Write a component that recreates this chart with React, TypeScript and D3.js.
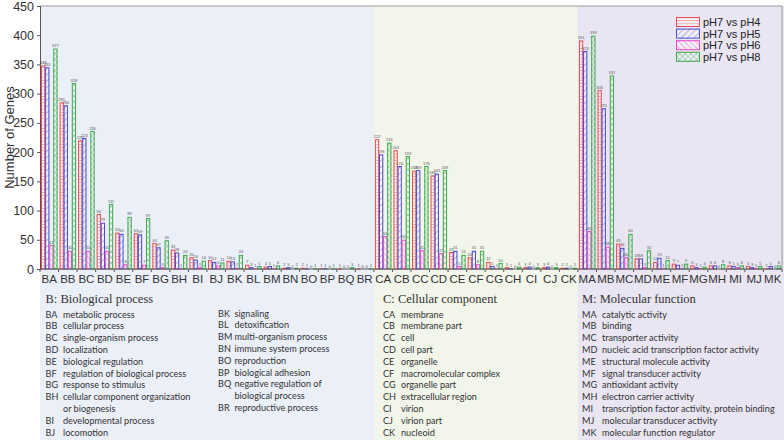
import * as React from 'react';
import * as d3 from 'd3';

// GO term codes, in plotting order
const bioCodes = ['BA', 'BB', 'BC', 'BD', 'BE', 'BF', 'BG', 'BH', 'BI', 'BJ', 'BK', 'BL', 'BM', 'BN', 'BO', 'BP', 'BQ', 'BR'];
const cellCodes = ['CA', 'CB', 'CC', 'CD', 'CE', 'CF', 'CG', 'CH', 'CI', 'CJ', 'CK'];
const molCodes = ['MA', 'MB', 'MC', 'MD', 'ME', 'MF', 'MG', 'MH', 'MI', 'MJ', 'MK'];

// number of genes per comparison (same order as the codes above)
const ph4 = [348, 285, 220, 94, 62, 61, 44, 33, 20, 15, 14, 7, 4, 2, 2, 1, 1, 1,
  222, 203, 168, 160, 29, 20, 12, 3, 3, 3, 2,
  391, 306, 43, 18, 12, 9, 6, 6, 6, 5, 1];
const ph5 = [345, 280, 224, 79, 60, 59, 37, 28, 16, 12, 13, 3, 5, 3, 1, 1, 0, 0,
  196, 176, 169, 163, 31, 31, 5, 1, 4, 4, 2,
  373, 275, 36, 18, 19, 7, 3, 6, 5, 3, 5];
const ph6 = [41, 31, 31, 31, 8, 7, 3, 1, 3, 6, 2, 1, 1, 0, 0, 0, 0, 0,
  56, 50, 32, 27, 5, 8, 1, 0, 0, 0, 0,
  65, 38, 20, 3, 1, 1, 1, 0, 3, 1, 0];
const ph8 = [377, 318, 236, 111, 89, 87, 49, 24, 14, 11, 24, 5, 6, 2, 1, 1, 3, 1,
  216, 193, 176, 169, 24, 31, 10, 4, 3, 3, 2,
  399, 331, 60, 32, 15, 9, 4, 8, 6, 5, 6];

const seriesNames = ['pH7 vs pH4', 'pH7 vs pH5', 'pH7 vs pH6', 'pH7 vs pH8'];
const yTicks = [0, 50, 100, 150, 200, 250, 300, 350, 400, 450];

const bioTerms1 = [
  ['BA', 'metabolic process'],
  ['BB', 'cellular process'],
  ['BC', 'single-organism process'],
  ['BD', 'localization'],
  ['BE', 'biological regulation'],
  ['BF', 'regulation of biological process'],
  ['BG', 'response to stimulus'],
  ['BH', 'cellular component organization', 'or biogenesis'],
  ['BI', 'developmental process'],
  ['BJ', 'locomotion'],
];
const bioTerms2 = [
  ['BK', 'signaling'],
  ['BL', 'detoxification'],
  ['BM', 'multi-organism process'],
  ['BN', 'immune system process'],
  ['BO', 'reproduction'],
  ['BP', 'biological adhesion'],
  ['BQ', 'negative regulation of', 'biological process'],
  ['BR', 'reproductive process'],
];
const cellTerms = [
  ['CA', 'membrane'],
  ['CB', 'membrane part'],
  ['CC', 'cell'],
  ['CD', 'cell part'],
  ['CE', 'organelle'],
  ['CF', 'macromolecular complex'],
  ['CG', 'organelle part'],
  ['CH', 'extracellular region'],
  ['CI', 'virion'],
  ['CJ', 'virion part'],
  ['CK', 'nucleoid'],
];
const molTerms = [
  ['MA', 'catalytic activity'],
  ['MB', 'binding'],
  ['MC', 'transporter activity'],
  ['MD', 'nucleic acid transcription factor activity'],
  ['ME', 'structural molecule activity'],
  ['MF', 'signal transducer activity'],
  ['MG', 'antioxidant activity'],
  ['MH', 'electron carrier activity'],
  ['MI', 'transcription factor activity, protein binding'],
  ['MJ', 'molecular transducer activity'],
  ['MK', 'molecular function regulator'],
];

const colors = ['#ee4a52', '#4a4ad2', '#ee48c6', '#3fa84f'];
const W = 784;
const H = 440;

export default function App() {
  const ref = React.useRef<SVGSVGElement | null>(null);

  React.useEffect(() => {
    document.body.style.margin = '0';
    if (!ref.current) return;
    const svg = d3.select(ref.current);
    svg.selectAll('*').remove();

    const left = 40, right = 782, top = 6, bottom = 269;
    const codes = [...bioCodes, ...cellCodes, ...molCodes];
    const series = [ph4, ph5, ph6, ph8];

    const x = d3.scaleBand<string>().domain(codes).range([left, right]).paddingInner(0.12).paddingOuter(0.06);
    const step = x.step();
    const xs = d3.scaleBand<number>().domain([0, 1, 2, 3]).range([0, x.bandwidth()]);
    const y = d3.scaleLinear().domain([0, 450]).range([bottom, top]);

    // patterns
    const defs = svg.append('defs');
    const mk = (id: string, color: string, size: number, angles: number[]) => {
      angles.forEach((a, k) => {
        const p = defs.append('pattern')
          .attr('id', id + (k ? '_' + k : ''))
          .attr('patternUnits', 'userSpaceOnUse')
          .attr('width', size).attr('height', size)
          .attr('patternTransform', `rotate(${a})`);
        p.append('line').attr('x1', 0).attr('y1', 0).attr('x2', 0).attr('y2', size)
          .attr('stroke', color).attr('stroke-width', 0.75);
      });
    };
    mk('pat0', colors[0], 3.2, [90]);
    mk('pat1', colors[1], 4.5, [45]);
    mk('pat2', colors[2], 4, [-45]);
    mk('pat3', colors[3], 4, [45, -45]);

    // category backgrounds
    const groups = [
      { n: bioCodes.length, fill: '#ebeff8' },
      { n: cellCodes.length, fill: '#f2f5ea' },
      { n: molCodes.length, fill: '#eae5f2' },
    ];
    let start = 0;
    groups.forEach((g, i) => {
      const x0 = left + start * step;
      const x1 = i === groups.length - 1 ? W : left + (start + g.n) * step;
      svg.append('rect').attr('x', x0).attr('y', top).attr('width', x1 - x0).attr('height', H - top).attr('fill', g.fill);
      start += g.n;
    });

    // frame
    svg.append('path').attr('d', `M${left},${top}H${right}V${bottom}`).attr('fill', 'none').attr('stroke', '#9a9a9a').attr('stroke-width', 1);

    // bars
    const bars = svg.append('g');
    codes.forEach((c, i) => {
      series.forEach((s, k) => {
        const v = s[i];
        const bx = (x(c) ?? 0) + (xs(k) ?? 0);
        const bw = xs.bandwidth();
        const by = y(v);
        const bh = bottom - by;
        if (bh > 0) {
          bars.append('rect').attr('x', bx).attr('y', by).attr('width', bw).attr('height', bh)
            .attr('fill', '#ffffff').attr('fill-opacity', 0.35);
          bars.append('rect').attr('x', bx).attr('y', by).attr('width', bw).attr('height', bh)
            .attr('fill', `url(#pat${k})`);
          if (k === 3) {
            bars.append('rect').attr('x', bx).attr('y', by).attr('width', bw).attr('height', bh)
              .attr('fill', `url(#pat3_1)`);
          }
          bars.append('rect').attr('x', bx + 0.4).attr('y', by + 0.4).attr('width', Math.max(bw - 0.8, 0)).attr('height', Math.max(bh - 0.4, 0))
            .attr('fill', 'none').attr('stroke', colors[k]).attr('stroke-width', 1);
        }
        bars.append('text').attr('x', bx + bw / 2).attr('y', by - 1.5)
          .attr('text-anchor', 'middle').attr('font-size', 4)
          .attr('font-family', 'Liberation Sans, Arial, sans-serif').attr('fill', '#555')
          .text(v);
      });
    });

    // axes
    const ay = d3.axisLeft(y).tickValues(yTicks).tickSize(3).tickPadding(3);
    const gy = svg.append('g').attr('transform', `translate(${left},0)`).call(ay as any);
    gy.select('.domain').attr('stroke', '#555');
    gy.selectAll('.tick line').attr('stroke', '#555');
    gy.selectAll('.tick text').attr('font-size', 12.5).attr('font-family', 'Liberation Sans, Arial, sans-serif').attr('fill', '#333');

    const gx = svg.append('g');
    gx.append('line').attr('x1', left).attr('x2', right).attr('y1', bottom).attr('y2', bottom).attr('stroke', '#555');
    codes.forEach((c, i) => {
      const bx = left + i * step;
      gx.append('line').attr('x1', bx).attr('x2', bx).attr('y1', bottom).attr('y2', bottom + 3).attr('stroke', '#555');
      gx.append('text').attr('x', bx + step / 2).attr('y', bottom + 14).attr('text-anchor', 'middle')
        .attr('font-size', 11.5).attr('font-family', 'Liberation Sans, Arial, sans-serif').attr('fill', '#333').text(c);
    });
    gx.append('line').attr('x1', right).attr('x2', right).attr('y1', bottom).attr('y2', bottom + 3).attr('stroke', '#555');

    svg.append('text').attr('transform', `translate(14,${(top + bottom) / 2}) rotate(-90)`)
      .attr('text-anchor', 'middle').attr('font-size', 13).attr('font-family', 'Liberation Sans, Arial, sans-serif')
      .attr('fill', '#333').text('Number of Genes');

    // legend
    const lg = svg.append('g').attr('transform', 'translate(676,17)');
    seriesNames.forEach((name, k) => {
      const ly = k * 11.6;
      lg.append('rect').attr('x', 0).attr('y', ly).attr('width', 24).attr('height', 10).attr('fill', '#fff').attr('fill-opacity', 0.35);
      lg.append('rect').attr('x', 0).attr('y', ly).attr('width', 24).attr('height', 10).attr('fill', `url(#pat${k})`);
      if (k === 3) lg.append('rect').attr('x', 0).attr('y', ly).attr('width', 24).attr('height', 10).attr('fill', 'url(#pat3_1)');
      lg.append('rect').attr('x', 0.5).attr('y', ly + 0.5).attr('width', 23).attr('height', 9).attr('fill', 'none').attr('stroke', colors[k]);
      lg.append('text').attr('x', 27).attr('y', ly + 9).attr('font-size', 11)
        .attr('font-family', 'Liberation Sans, Arial, sans-serif').attr('fill', '#222').text(name);
    });

    // term tables
    const rowH = 11.8;
    const drawTitle = (tx: number, t: string) => {
      svg.append('text').attr('x', tx).attr('y', 303).attr('font-size', 12.5)
        .attr('font-family', 'Liberation Serif, Times New Roman, serif').attr('fill', '#333').text(t);
    };
    const drawTerms = (terms: string[][], cx: number, dx: number, y0: number) => {
      let row = 0;
      terms.forEach(t => {
        svg.append('text').attr('x', cx).attr('y', y0 + row * rowH).attr('font-size', 9.1)
          .attr('font-family', 'Lato, Open Sans, sans-serif').attr('fill', '#333').text(t[0]);
        t.slice(1).forEach(line => {
          svg.append('text').attr('x', dx).attr('y', y0 + row * rowH).attr('font-size', 9.1)
            .attr('font-family', 'Lato, Open Sans, sans-serif').attr('fill', '#333').text(line);
          row += 1;
        });
      });
    };
    drawTitle(45.5, 'B: Biological process');
    drawTerms(bioTerms1, 45.5, 63, 317.5);
    drawTerms(bioTerms2, 218, 234.5, 316.5);
    drawTitle(383, 'C: Cellular component');
    drawTerms(cellTerms, 383, 401, 317.5);
    drawTitle(582, 'M: Molecular function');
    drawTerms(molTerms, 582, 602, 317.5);
  }, []);

  return <svg ref={ref} width={W} height={H} viewBox={`0 0 ${W} ${H}`} style={{ display: 'block', background: '#fff' }} />;
}
